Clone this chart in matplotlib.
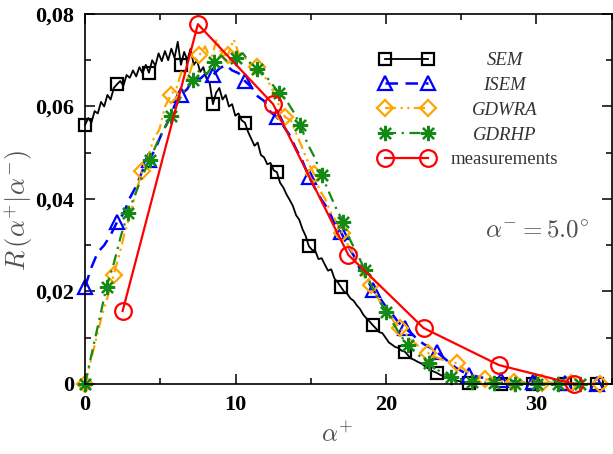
import matplotlib
matplotlib.use('Agg')
import matplotlib.pyplot as plt
import numpy as np

plt.rcParams['font.family'] = ['Liberation Serif', 'DejaVu Serif']
plt.rcParams['mathtext.fontset'] = 'cm'

# SEM: dense noisy curve, one marker every 10 samples
sem_step = 0.2125
sem_r = [
    0.0560, 0.0575, 0.0565, 0.0590, 0.0585, 0.0610, 0.0600, 0.0625, 0.0615, 0.0640,
    0.0648, 0.0655, 0.0645, 0.0668, 0.0662, 0.0678, 0.0665, 0.0685, 0.0672, 0.0690,
    0.0673, 0.0700, 0.0688, 0.0715, 0.0698, 0.0720, 0.0700, 0.0725, 0.0705, 0.0740,
    0.0690, 0.0718, 0.0700, 0.0725, 0.0690, 0.0700, 0.0675, 0.0685, 0.0660, 0.0650,
    0.0605, 0.0630, 0.0640, 0.0615, 0.0625, 0.0600, 0.0605, 0.0580, 0.0585, 0.0570,
    0.0565, 0.0545, 0.0530, 0.0515, 0.0522, 0.0495, 0.0490, 0.0475, 0.0478, 0.0462,
    0.0458, 0.0435, 0.0425, 0.0410, 0.0398, 0.0385, 0.0365, 0.0355, 0.0335, 0.0320,
    0.0298, 0.0290, 0.0288, 0.0270, 0.0272, 0.0258, 0.0245, 0.0248, 0.0228, 0.0220,
    0.0210, 0.0200, 0.0195, 0.0185, 0.0180, 0.0170, 0.0162, 0.0150, 0.0142, 0.0135,
    0.0127, 0.0120, 0.0112, 0.0110, 0.0100, 0.0090, 0.0085, 0.0080, 0.0078, 0.0072,
    0.0070, 0.0062, 0.0055, 0.0052, 0.0048, 0.0045, 0.0040, 0.0035, 0.0030, 0.0027,
    0.0024, 0.0020, 0.0017, 0.0014, 0.0012, 0.0010, 0.0008, 0.0006, 0.0005, 0.0003,
    0.0002, 0.0002, 0.0001, 0.0001, 0.0, 0.0, 0.0, 0.0, 0.0, 0.0,
    0.0, 0.0, 0.0, 0.0, 0.0, 0.0, 0.0, 0.0, 0.0, 0.0,
    0.0, 0.0, 0.0, 0.0, 0.0, 0.0, 0.0, 0.0, 0.0, 0.0,
    0.0, 0.0, 0.0, 0.0, 0.0, 0.0, 0.0, 0.0, 0.0, 0.0,
    0.0, 0.0, 0.0, 0.0, 0.0,
]

# ISEM, marker every 5 samples
isem_step = 0.425
isem_r = [
    0.0210, 0.0252, 0.0285, 0.0300, 0.0322, 0.0350, 0.0368, 0.0402, 0.0428, 0.0462,
    0.0484, 0.0508, 0.0542, 0.0568, 0.0602, 0.0625, 0.0638, 0.0662, 0.0660, 0.0672,
    0.0668, 0.0682, 0.0690, 0.0678, 0.0672, 0.0655, 0.0642, 0.0622, 0.0612, 0.0588,
    0.0577, 0.0558, 0.0538, 0.0508, 0.0482, 0.0448, 0.0422, 0.0398, 0.0378, 0.0348,
    0.0329, 0.0300, 0.0278, 0.0248, 0.0228, 0.0203, 0.0188, 0.0168, 0.0152, 0.0133,
    0.0121, 0.0110, 0.0096, 0.0086, 0.0078, 0.0069, 0.0058, 0.0046, 0.0035, 0.0027,
    0.0020, 0.0017, 0.0014, 0.0012, 0.0010, 0.0009, 0.0007, 0.0006, 0.0005, 0.0004,
    0.0004, 0.0003, 0.0003, 0.0002, 0.0002, 0.0002, 0.0001, 0.0001, 0.0001, 0.0001,
    0.0001, 0.0, 0.0,
]

# GDWRA, marker every 5 samples
gdwra_step = 0.38
gdwra_r = [
    0.0, 0.0050, 0.0100, 0.0150, 0.0190, 0.0236, 0.0280, 0.0330, 0.0370, 0.0420,
    0.0460, 0.0490, 0.0530, 0.0550, 0.0600, 0.0625, 0.0640, 0.0680, 0.0660, 0.0700,
    0.0711, 0.0730, 0.0700, 0.0745, 0.0710, 0.0712, 0.0745, 0.0710, 0.0705, 0.0690,
    0.0685, 0.0670, 0.0655, 0.0630, 0.0600, 0.0577, 0.0570, 0.0540, 0.0510, 0.0480,
    0.0455, 0.0420, 0.0400, 0.0370, 0.0350, 0.0326, 0.0300, 0.0280, 0.0250, 0.0230,
    0.0214, 0.0190, 0.0170, 0.0155, 0.0135, 0.0121, 0.0110, 0.0095, 0.0085, 0.0075,
    0.0067, 0.0060, 0.0055, 0.0050, 0.0048, 0.0045, 0.0035, 0.0025, 0.0018, 0.0013,
    0.0010, 0.0008, 0.0007, 0.0006, 0.0005, 0.0005, 0.0004, 0.0004, 0.0003, 0.0003,
    0.0003, 0.0002, 0.0002, 0.0002, 0.0002, 0.0002, 0.0001, 0.0001, 0.0001, 0.0001,
    0.0, 0.0,
]

# GDRHP, marker every 3 samples
gdrhp_step = 0.4767
gdrhp_r = [
    0.0, 0.0070, 0.0140, 0.0210, 0.0260, 0.0320, 0.0370, 0.0410, 0.0450, 0.0484,
    0.0520, 0.0550, 0.0580, 0.0610, 0.0640, 0.0657, 0.0680, 0.0670, 0.0696, 0.0710,
    0.0695, 0.0705, 0.0715, 0.0695, 0.0680, 0.0670, 0.0650, 0.0630, 0.0615, 0.0590,
    0.0560, 0.0520, 0.0490, 0.0452, 0.0415, 0.0380, 0.0350, 0.0310, 0.0280, 0.0247,
    0.0210, 0.0180, 0.0156, 0.0130, 0.0105, 0.0084, 0.0070, 0.0055, 0.0045, 0.0032,
    0.0022, 0.0015, 0.0010, 0.0007, 0.0004, 0.0003, 0.0003, 0.0002, 0.0002, 0.0001,
    0.0001, 0.0001, 0.0001, 0.0001, 0.0, 0.0, 0.0, 0.0, 0.0, 0.0,
]

meas_x = [2.5, 7.5, 12.5, 17.5, 22.5, 27.5, 32.5]
meas_r = [0.0158, 0.0778, 0.0605, 0.0279, 0.0121, 0.0041, 0.0]

labels = ['SEM', 'ISEM', 'GDWRA', 'GDRHP', 'measurements']
xticks = [0, 10, 20, 30]
yticks = [0, 0.02, 0.04, 0.06, 0.08]
ytick_labels = ['0', '0,02', '0,04', '0,06', '0,08']

fig = plt.figure(figsize=(6.13, 4.54), dpi=100)
ax = fig.add_axes([0.1387, 0.1542, 0.8592, 0.8150])

common = dict(mfc='none', mew=1.6, clip_on=False)
ax.plot(sem_step * np.arange(len(sem_r)), sem_r, color='black', lw=1.3,
        marker='s', ms=9, markevery=10, label=labels[0], **common)
ax.plot(isem_step * np.arange(len(isem_r)), isem_r, color='#0000ff', lw=1.8,
        ls=(0, (5, 3)), marker='^', ms=10, markevery=5, label=labels[1], **common)
ax.plot(gdwra_step * np.arange(len(gdwra_r)), gdwra_r, color='#ffa500', lw=1.6,
        ls=(0, (5, 2, 1, 2, 1, 2)), marker='D', ms=8, markevery=5, label=labels[2], **common)
ax.plot(gdrhp_step * np.arange(len(gdrhp_r)), gdrhp_r, color='#138a13', lw=1.6,
        ls=(0, (5, 2.5, 1, 2.5)), marker=(8, 2, 0), ms=11, markevery=3, label=labels[3], **common)
ax.plot(meas_x, meas_r, color='#ff0000', lw=1.6, marker='o', ms=12,
        label=labels[4], **common)

ax.set_xlim(0, 35)
ax.set_ylim(0, 0.08)
ax.set_xticks(xticks)
ax.set_xticks(np.arange(0, 36, 5), minor=True)
ax.set_yticks(yticks)
ax.set_yticklabels(ytick_labels)
ax.set_yticks(np.arange(0, 0.081, 0.01), minor=True)
ax.tick_params(which='both', direction='in', top=True, right=True, width=1.1)
ax.tick_params(which='major', length=7, pad=8, labelsize=16)
ax.tick_params(which='minor', length=4)
for lab in ax.get_xticklabels() + ax.get_yticklabels():
    lab.set_fontweight('bold')
for sp in ax.spines.values():
    sp.set_linewidth(1.2)

ax.set_xlabel(r'$\alpha^{+}$', fontsize=18, color='#505050')
ax.xaxis.set_label_coords(0.478, -0.105)
ax.set_ylabel(r'$R\,(\alpha^{+}|\alpha^{-})$', fontsize=19, color='#505050')
ax.yaxis.set_label_coords(-0.095, 0.468)
ax.text(0.858, 0.4135, r'$\alpha^{-} = 5.0^{\circ}$', transform=ax.transAxes,
        ha='center', va='center', fontsize=18, color='#505050')

leg = ax.legend(loc='upper left', bbox_to_anchor=(0.558, 0.897), frameon=False,
                numpoints=2, handlelength=2.9, borderpad=0, borderaxespad=0,
                labelspacing=0.41, prop={'size': 13.5})

# centre the legend labels in a column, like the original
fig.canvas.draw()
inv = ax.transAxes.inverted()
for t in leg.get_texts():
    bb = t.get_window_extent()
    yc = inv.transform(((bb.x0 + bb.x1) / 2, (bb.y0 + bb.y1) / 2))[1]
    style = 'normal' if t.get_text() == 'measurements' else 'italic'
    ax.text(0.797, yc, t.get_text(), transform=ax.transAxes, ha='center',
            va='center', fontsize=13.5, style=style, color='#333333')
    t.set_visible(False)

fig.savefig('out.png', dpi=100)
